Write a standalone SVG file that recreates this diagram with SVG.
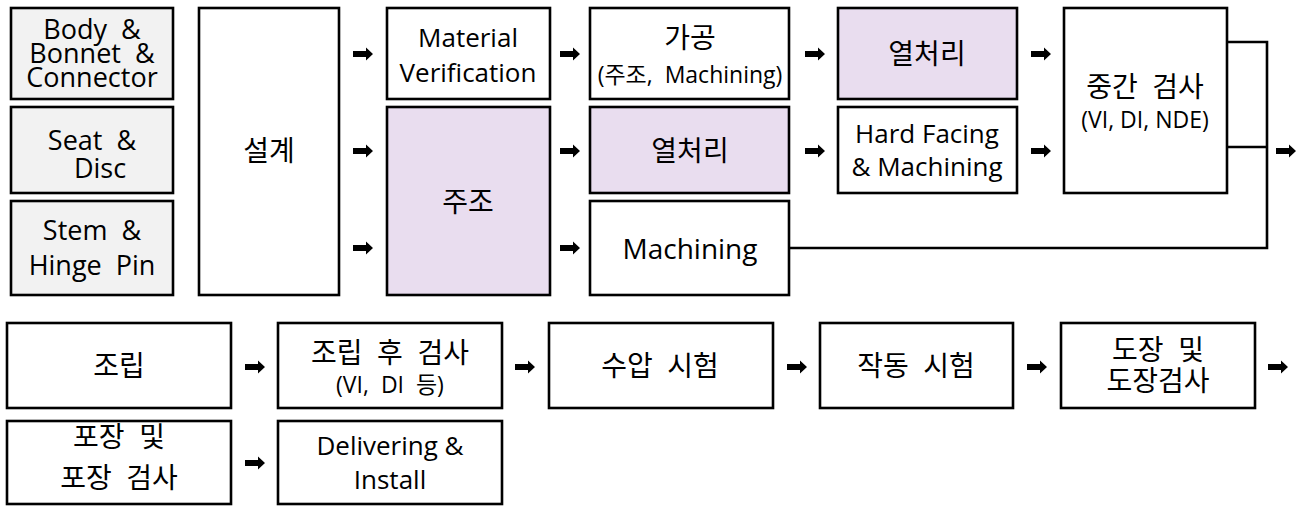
<svg xmlns="http://www.w3.org/2000/svg" xmlns:xlink="http://www.w3.org/1999/xlink" width="1302" height="506" viewBox="0 0 1302 506">
<style>
  rect { stroke: #000; stroke-width: 2.6; fill: #fff; }
  rect.g { fill: #f2f2f2; }
  rect.p { fill: #e9ddef; }
  text { font-family: "Open Sans", "Noto Sans CJK KR", sans-serif; fill: #000; text-anchor: middle; white-space: pre; }
  .l27 { font-size: 27px; }
  .t26 { font-size: 26px; }
  .t28 { font-size: 28px; }
  .k28 { font-size: 28px; }
  .s23 { font-size: 23px; }
  .conn { fill: none; stroke: #000; stroke-width: 2.6; }
</style>
<defs>
  <path id="arr" d="M-20,-3 L-7,-3 L-7,-6.5 L0,0 L-7,6.5 L-7,3 L-20,3 Z" fill="#000"/>
</defs>

<g id="body"><rect class="g" x="11" y="8" width="162" height="91"/>
  <text class="l27" xml:space="preserve"><tspan x="92" y="39">Body  &amp;</tspan><tspan x="92" y="63">Bonnet  &amp;</tspan><tspan x="92" y="87">Connector</tspan></text></g>
<g id="seat"><rect class="g" x="11" y="107" width="162" height="86"/>
  <text class="l27" xml:space="preserve"><tspan x="92" y="150">Seat  &amp;</tspan><tspan x="100" y="178">Disc</tspan></text></g>
<g id="stem"><rect class="g" x="11" y="201" width="162" height="94"/>
  <text class="l27" xml:space="preserve"><tspan x="92" y="240">Stem  &amp;</tspan><tspan x="92" y="275">Hinge  Pin</tspan></text></g>
<g id="design"><rect x="199" y="8" width="140" height="287"/>
  <text class="k28" x="269" y="161">설계</text></g>
<g id="material"><rect x="387" y="8" width="163" height="91"/>
  <text class="t26"><tspan x="468" y="47">Material</tspan><tspan x="468" y="82">Verification</tspan></text></g>
<g id="casting"><rect class="p" x="387" y="107" width="163" height="188"/>
  <text class="k28" x="468" y="212">주조</text></g>
<g id="process"><rect x="590" y="8" width="199" height="91"/>
  <text class="k28" x="690" y="48">가공</text>
  <text class="s23" x="690" y="83" xml:space="preserve">(주조,  Machining)</text></g>
<g id="heat2"><rect class="p" x="590" y="107" width="199" height="86"/>
  <text class="k28" x="690" y="161">열처리</text></g>
<g id="machining"><rect x="590" y="201" width="199" height="94"/>
  <text class="t28" x="690" y="259">Machining</text></g>
<g id="heat1"><rect class="p" x="838" y="8" width="179" height="91"/>
  <text class="k28" x="927" y="64">열처리</text></g>
<g id="hardfacing"><rect x="838" y="107" width="179" height="86"/>
  <text class="t26"><tspan x="927" y="143">Hard Facing</tspan><tspan x="927" y="176">&amp; Machining</tspan></text></g>
<g id="midinspect"><rect x="1064" y="8" width="163" height="185"/>
  <text class="k28" x="1145" y="97" xml:space="preserve">중간  검사</text>
  <text class="s23" x="1145" y="128">(VI, DI, NDE)</text></g>

<g id="assembly"><rect x="7" y="323" width="224" height="85"/>
  <text class="k28" x="119" y="376">조립</text></g>
<g id="postinspect"><rect x="278" y="323" width="224" height="85"/>
  <text class="k28" x="390" y="363" xml:space="preserve">조립  후  검사</text>
  <text class="s23" x="390" y="393" xml:space="preserve">(VI,  DI  등)</text></g>
<g id="hydro"><rect x="549" y="323" width="224" height="85"/>
  <text class="k28" x="660" y="376" xml:space="preserve">수압  시험</text></g>
<g id="operation"><rect x="820" y="323" width="193" height="85"/>
  <text class="k28" x="916" y="376" xml:space="preserve">작동  시험</text></g>
<g id="painting"><rect x="1061" y="323" width="194" height="85"/>
  <text class="k28" xml:space="preserve"><tspan x="1158" y="360">도장  및</tspan><tspan x="1158" y="391">도장검사</tspan></text></g>
<g id="packing"><rect x="7" y="421" width="224" height="83"/>
  <text class="k28" xml:space="preserve"><tspan x="119" y="447">포장  및</tspan><tspan x="119" y="488">포장  검사</tspan></text></g>
<g id="delivering"><rect x="278" y="421" width="224" height="83"/>
  <text class="t26"><tspan x="390" y="455">Delivering &amp;</tspan><tspan x="390" y="489">Install</tspan></text></g>

<g id="connectors">
  <path class="conn" d="M1227,42 H1267 V248 H789"/>
  <path class="conn" d="M1227,147 H1267"/>
  <use xlink:href="#arr" x="373" y="54"/>
  <use xlink:href="#arr" x="580" y="54"/>
  <use xlink:href="#arr" x="825" y="54"/>
  <use xlink:href="#arr" x="1051" y="54"/>
  <use xlink:href="#arr" x="373" y="151"/>
  <use xlink:href="#arr" x="580" y="151"/>
  <use xlink:href="#arr" x="825" y="151"/>
  <use xlink:href="#arr" x="1051" y="151"/>
  <use xlink:href="#arr" x="1296" y="151"/>
  <use xlink:href="#arr" x="373" y="248"/>
  <use xlink:href="#arr" x="580" y="248"/>
  <use xlink:href="#arr" x="265" y="367"/>
  <use xlink:href="#arr" x="535" y="367"/>
  <use xlink:href="#arr" x="807" y="367"/>
  <use xlink:href="#arr" x="1047" y="367"/>
  <use xlink:href="#arr" x="1288" y="367"/>
  <use xlink:href="#arr" x="265" y="463"/>
</g>
</svg>
